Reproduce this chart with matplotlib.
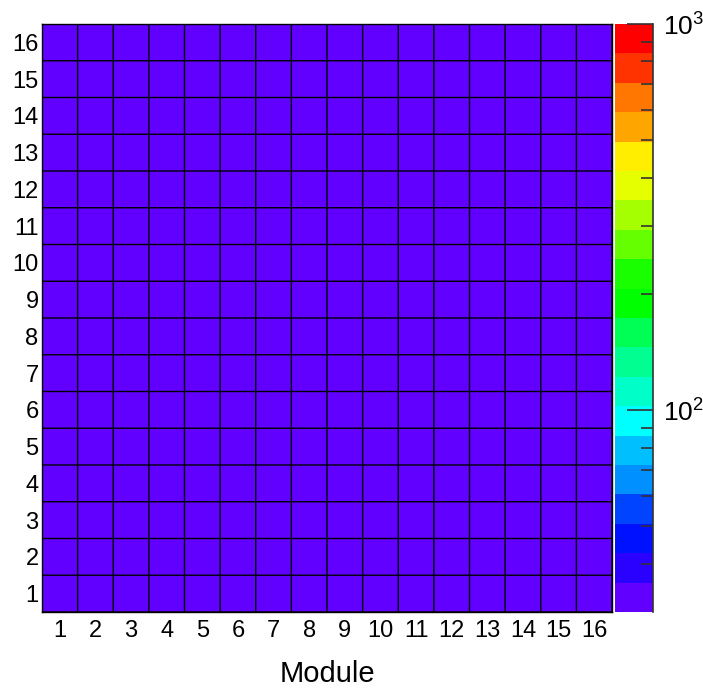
import numpy as np
import matplotlib
matplotlib.use("Agg")
import matplotlib.pyplot as plt
from matplotlib.colors import ListedColormap, LogNorm

plt.rcParams["font.family"] = ["Liberation Sans", "DejaVu Sans"]
plt.rcParams["mathtext.fontset"] = "custom"
plt.rcParams["mathtext.rm"] = "Liberation Sans"

# Module x channel occupancy map (16 x 16)
modules = list(range(1, 17))
channels = list(range(1, 17))
counts = [
    [32, 32, 32, 32, 32, 32, 32, 32, 32, 32, 32, 32, 32, 32, 32, 32],
    [32, 32, 32, 32, 32, 32, 32, 32, 32, 32, 32, 32, 32, 32, 32, 32],
    [32, 32, 32, 32, 32, 32, 32, 32, 32, 32, 32, 32, 32, 32, 32, 32],
    [32, 32, 32, 32, 32, 32, 32, 32, 32, 32, 32, 32, 32, 32, 32, 32],
    [32, 32, 32, 32, 32, 32, 32, 32, 32, 32, 32, 32, 32, 32, 32, 32],
    [32, 32, 32, 32, 32, 32, 32, 32, 32, 32, 32, 32, 32, 32, 32, 32],
    [32, 32, 32, 32, 32, 32, 32, 32, 32, 32, 32, 32, 32, 32, 32, 32],
    [32, 32, 32, 32, 32, 32, 32, 32, 32, 32, 32, 32, 32, 32, 32, 32],
    [32, 32, 32, 32, 32, 32, 32, 32, 32, 32, 32, 32, 32, 32, 32, 32],
    [32, 32, 32, 32, 32, 32, 32, 32, 32, 32, 32, 32, 32, 32, 32, 32],
    [32, 32, 32, 32, 32, 32, 32, 32, 32, 32, 32, 32, 32, 32, 32, 32],
    [32, 32, 32, 32, 32, 32, 32, 32, 32, 32, 32, 32, 32, 32, 32, 32],
    [32, 32, 32, 32, 32, 32, 32, 32, 32, 32, 32, 32, 32, 32, 32, 32],
    [32, 32, 32, 32, 32, 32, 32, 32, 32, 32, 32, 32, 32, 32, 32, 32],
    [32, 32, 32, 32, 32, 32, 32, 32, 32, 32, 32, 32, 32, 32, 32, 32],
    [32, 32, 32, 32, 32, 32, 32, 32, 32, 32, 32, 32, 32, 32, 32, 32],
]
z_min, z_max = 30, 1000

# 20-level rainbow palette, low -> high
palette = [
    "#6200ff", "#2a00ff", "#0011ff", "#0044ff", "#0090ff",
    "#00bfff", "#00ffff", "#00ffc8", "#00ff90", "#00ff55",
    "#00ff00", "#1aff00", "#66ff00", "#a5ff00", "#e5ff00",
    "#ffee00", "#ffa500", "#ff7700", "#ff3300", "#ff0000",
]
cmap = ListedColormap(palette)
norm = LogNorm(vmin=z_min, vmax=z_max)

W, H = 703, 691
fig = plt.figure(figsize=(W / 100, H / 100), dpi=100)
ax = fig.add_axes([42 / W, 1 - 612 / H, 570 / W, 588 / H])
cax = fig.add_axes([615 / W, 1 - 612 / H, 38 / W, 588 / H])

x_edges = np.arange(len(modules) + 1) + 0.5
y_edges = np.arange(len(channels) + 1) + 0.5
mesh = ax.pcolormesh(x_edges, y_edges, np.array(counts, dtype=float),
                     cmap=cmap, norm=norm, edgecolors="none")

# cell borders
ax.vlines(x_edges, y_edges[0], y_edges[-1], colors="black", linewidth=1.0,
          snap=False)
ax.hlines(y_edges, x_edges[0], x_edges[-1], colors="black", linewidth=1.0,
          snap=False)

ax.set_xlim(x_edges[0], x_edges[-1])
ax.set_ylim(y_edges[0], y_edges[-1])
ax.set_xticks(modules)
ax.set_xticklabels([str(m) for m in modules])
ax.set_yticks(channels)
ax.set_yticklabels([str(c) for c in channels])
ax.tick_params(axis="both", length=0, labelsize=17)
ax.tick_params(axis="x", pad=6)
ax.tick_params(axis="y", pad=2.5)
for s in ax.spines.values():
    s.set_color("black")
    s.set_linewidth(1.0)
ax.set_xlabel("Module", fontsize=21, labelpad=13)

cb = fig.colorbar(mesh, cax=cax)
cb.outline.set_visible(False)
cax.plot([1, 1], [0, 1], transform=cax.transAxes, color="#333333",
         lw=1.2, clip_on=False)
cax.yaxis.set_ticks_position("right")
cax.set_yticks([100, 1000])
cax.set_yticklabels([r"$\mathregular{10^{2}}$", r"$\mathregular{10^{3}}$"])
minor = [v * d for d in (10, 100) for v in range(2, 10) if z_min < v * d < z_max]
cax.set_yticks(minor, minor=True)
cax.yaxis.set_minor_formatter(matplotlib.ticker.NullFormatter())
cax.tick_params(axis="y", which="major", direction="in", length=19,
                width=1.2, color="#333333", labelsize=19, pad=7)
cax.tick_params(axis="y", which="minor", direction="in", length=9,
                width=1.2, color="#333333")

fig.savefig("out.png", dpi=100)
